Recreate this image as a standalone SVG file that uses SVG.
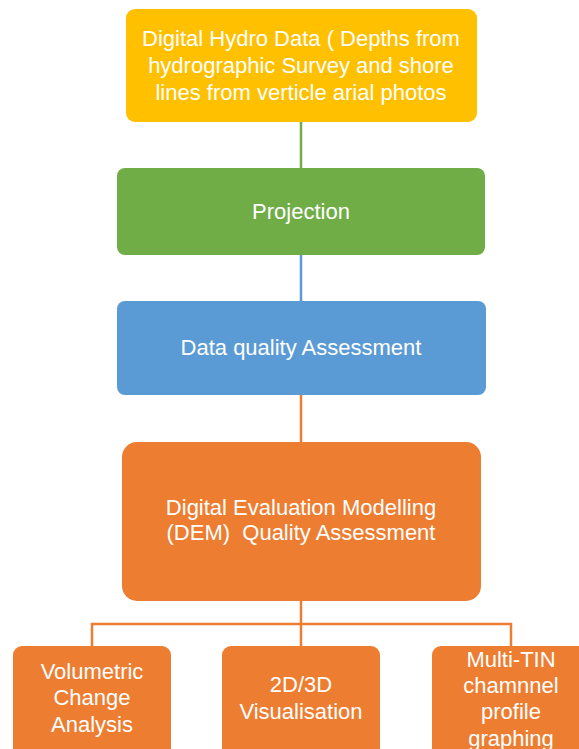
<svg xmlns="http://www.w3.org/2000/svg" width="579" height="749" viewBox="0 0 579 749">
  <style>
    .lbl { font-family: "Liberation Sans", Arial, sans-serif; font-size: 22px; fill: #ffffff; text-anchor: middle; white-space: pre; }
    .wire { fill: none; stroke-width: 2.5; }
    .yellow { fill: #FFC000; }
    .green { fill: #70AD47; }
    .blue { fill: #5B9BD5; }
    .orange { fill: #ED7D31; }
  </style>
  <rect width="579" height="749" fill="#ffffff"/>

  <g id="connectors">
    <line class="wire" x1="301" y1="122" x2="301" y2="168" stroke="#70AD47"/>
    <line class="wire" x1="301" y1="255" x2="301" y2="301" stroke="#5B9BD5"/>
    <line class="wire" x1="301" y1="395" x2="301" y2="442" stroke="#ED7D31"/>
    <path class="wire" d="M301 601 V646 M92 646 V624 H511 V646" stroke="#ED7D31"/>
  </g>

  <g id="hydro-data">
    <rect class="yellow" x="126" y="9" width="351" height="113" rx="9"/>
    <text class="lbl" x="301" y="46">Digital Hydro Data ( Depths from</text>
    <text class="lbl" x="301" y="73">hydrographic Survey and shore</text>
    <text class="lbl" x="301" y="100">lines from verticle arial photos</text>
  </g>

  <g id="projection">
    <rect class="green" x="117" y="168" width="368" height="87" rx="8"/>
    <text class="lbl" x="301" y="219">Projection</text>
  </g>

  <g id="data-quality">
    <rect class="blue" x="117" y="301" width="369" height="94" rx="8"/>
    <text class="lbl" x="301" y="355">Data quality Assessment</text>
  </g>

  <g id="dem">
    <rect class="orange" x="122" y="442" width="359" height="159" rx="15"/>
    <text class="lbl" x="301" y="515">Digital Evaluation Modelling</text>
    <text class="lbl" x="301" y="540">(DEM)  Quality Assessment</text>
  </g>

  <g id="volumetric">
    <rect class="orange" x="13" y="646" width="158" height="120" rx="9"/>
    <text class="lbl" x="92" y="679">Volumetric</text>
    <text class="lbl" x="92" y="705">Change</text>
    <text class="lbl" x="92" y="732">Analysis</text>
  </g>

  <g id="visualisation">
    <rect class="orange" x="222" y="646" width="158" height="120" rx="9"/>
    <text class="lbl" x="301" y="692">2D/3D</text>
    <text class="lbl" x="301" y="719">Visualisation</text>
  </g>

  <g id="multi-tin">
    <rect class="orange" x="432" y="646" width="158" height="120" rx="9"/>
    <text class="lbl" x="511" y="667">Multi-TIN</text>
    <text class="lbl" x="511" y="693">chamnnel</text>
    <text class="lbl" x="511" y="719">profile</text>
    <text class="lbl" x="511" y="746">graphing</text>
  </g>
</svg>
